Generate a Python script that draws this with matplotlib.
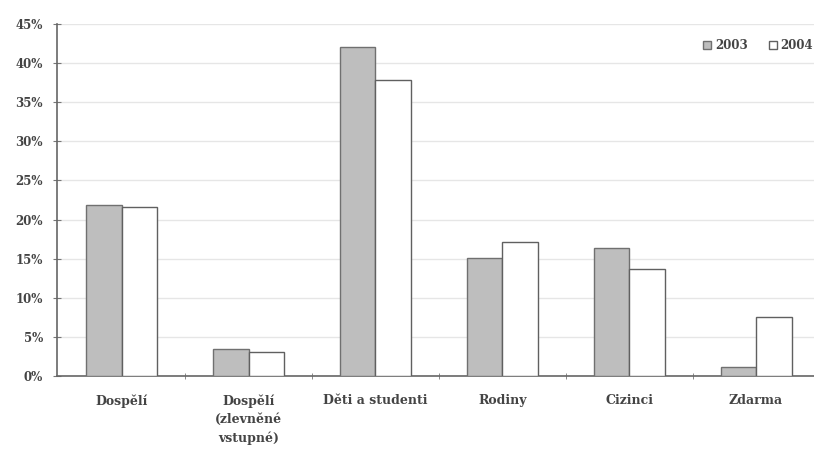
import matplotlib
matplotlib.use("Agg")
import matplotlib.pyplot as plt
import numpy as np
from matplotlib.ticker import FuncFormatter, MultipleLocator

categories = ["Dospělí", "Dospělí\n(zlevněné\nvstupné)", "Děti a studenti", "Rodiny", "Cizinci", "Zdarma"]
series_names = ["2003", "2004"]
values_2003 = [21.9, 3.4, 42.1, 15.1, 16.3, 1.1]
values_2004 = [21.6, 3.1, 37.8, 17.1, 13.7, 7.5]

plt.rcParams['font.family'] = ['DejaVu Serif']
plt.rcParams['font.weight'] = 'bold'

fig = plt.figure(figsize=(8.14, 4.5), dpi=100)
ax = fig.add_axes([57/814, 1 - 376/450, (814-57)/814, (376-24)/450])

x = np.arange(len(categories))
w = 0.28
ax.bar(x - w/2, values_2003, w, color="#bebebe", edgecolor="#707070", linewidth=1.0,
       label=series_names[0], zorder=3)
ax.bar(x + w/2, values_2004, w, color="white", edgecolor="#606060", linewidth=1.0,
       label=series_names[1], zorder=3)

ax.set_xlim(-0.51, 5.457)
ax.set_ylim(0, 45)
ax.yaxis.set_major_locator(MultipleLocator(5))
ax.yaxis.set_major_formatter(FuncFormatter(lambda v, p: f"{int(round(v))}%"))
ax.grid(axis="y", color="#e6e6e6", linewidth=1.0, zorder=0)

ax.set_xticks(x)
ax.set_xticklabels(categories, fontsize=9, color="#444444", linespacing=1.55, va="top",
                   fontweight="bold")
ax.set_xticks(np.arange(0.5, len(categories) - 0.5, 1), minor=True)
ax.tick_params(axis="x", which="major", length=0, pad=13)
ax.tick_params(axis="x", which="minor", length=4, direction="inout", color="#777777")
ax.tick_params(axis="y", length=6, direction="inout", color="#777777", labelsize=8.5,
               labelcolor="#444444", pad=7)
for lab in ax.get_yticklabels():
    lab.set_fontweight("bold")

for s in ["top", "right"]:
    ax.spines[s].set_visible(False)
ax.spines["left"].set_color("#666666")
ax.spines["bottom"].set_color("#666666")
ax.spines["left"].set_linewidth(1.2)
ax.spines["bottom"].set_linewidth(1.2)

leg = ax.legend(loc="upper right", bbox_to_anchor=(1.013, 0.988), ncol=2, frameon=False,
                prop={"size": 8.5, "weight": "bold"}, handlelength=0.7, handleheight=0.7,
                handletextpad=0.3, columnspacing=1.8)
for t in leg.get_texts():
    t.set_color("#444444")

fig.savefig("out.png", dpi=100)
